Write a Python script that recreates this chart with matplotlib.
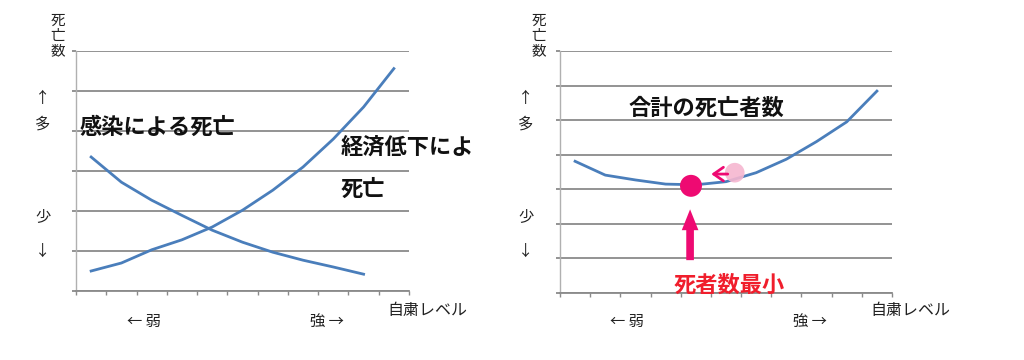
import matplotlib
matplotlib.use("Agg")
import matplotlib.pyplot as plt
from matplotlib.patches import Rectangle

plt.rcParams['font.family'] = ['Noto Sans CJK JP', 'DejaVu Sans']

# ---- data ----
levels = list(range(1, 12))  # 自粛レベル categories
infection_deaths = [3.35, 2.72, 2.27, 1.89, 1.52, 1.22, 0.97, 0.77, 0.60, 0.42]
economic_deaths = [0.50, 0.70, 1.03, 1.28, 1.60, 2.02, 2.52, 3.10, 3.80, 4.60, 5.56]
total_deaths = [3.81, 3.41, 3.27, 3.15, 3.13, 3.22, 3.48, 3.87, 4.38, 4.95, 5.84]
optimum_level, optimum_deaths = 4.84, 3.10
current_level, current_deaths = 6.29, 3.48

LINE = '#4a7ebb'
GRID = '#8a8a8a'
PINK = '#ee0a72'
W, H = 1024, 360

fig = plt.figure(figsize=(W / 100, H / 100), dpi=100)
fig.patch.set_facecolor('white')


def fx(px):
    return px / W


def fy(py):
    return 1 - py / H


def setup(ax, ymax):
    ax.set_xlim(0.5, 11.5)
    ax.set_ylim(0, ymax)
    ax.set_yticks(range(0, ymax + 1))
    ax.set_yticklabels([])
    ax.set_xticks([i + 0.5 for i in range(0, 12)])
    ax.set_xticklabels([])
    ax.grid(axis='y', color=GRID, lw=1.3)
    ax.set_axisbelow(True)
    for s in ['top', 'right']:
        ax.spines[s].set_visible(False)
    ax.spines['left'].set_color('#b0b0b0')
    ax.spines['left'].set_linewidth(1.0)
    ax.spines['bottom'].set_color(GRID)
    ax.spines['bottom'].set_linewidth(1.3)
    ax.tick_params(axis='x', length=3, color=GRID, width=1)
    ax.tick_params(axis='y', length=3, color=GRID, width=1.3)


# ---- left chart ----
ax1 = fig.add_axes([fx(76), fy(291), fx(409 - 76), (291 - 51) / H])
setup(ax1, 6)
ax1.plot(levels[:len(infection_deaths)], infection_deaths, color=LINE, lw=2)
ax1.plot(levels, economic_deaths, color=LINE, lw=2)

# ---- right chart ----
ax2 = fig.add_axes([fx(560), fy(293), fx(892 - 560), (293 - 51) / H])
setup(ax2, 7)
ax2.plot(levels, total_deaths, color=LINE, lw=2, zorder=3)
ax2.scatter([current_level], [current_deaths], s=200, color='#f5b6d0',
            alpha=0.9, zorder=4, edgecolors='none')
ax2.scatter([optimum_level], [optimum_deaths], s=250, color=PINK,
            zorder=5, edgecolors='none')
ax2.annotate('', xy=(5.42, 3.44), xytext=(6.15, 3.44),
             arrowprops=dict(arrowstyle='->,head_length=0.5,head_width=0.35',
                             color=PINK, lw=2, mutation_scale=14), zorder=6)
ax2.annotate('', xy=(optimum_level - 0.03, 2.50), xytext=(optimum_level - 0.03, 0.87),
             arrowprops=dict(arrowstyle='simple,head_length=1.5,head_width=1.2,tail_width=0.55',
                             color=PINK, lw=0, mutation_scale=10), zorder=6)

# ---- texts ----
bold = dict(fontsize=16, fontweight='bold', color='#111111')
fig.text(fx(80), fy(127), '感染による死亡', ha='left', va='center', **bold)
t = fig.text(fx(341), fy(147), '経済低下による', ha='left', va='center', **bold)
t.set_clip_on(True)
t.set_clip_path(Rectangle((0, 0), fx(474), 1, transform=fig.transFigure))
fig.text(fx(341), fy(189), '死亡', ha='left', va='center', **bold)
fig.text(fx(629), fy(108), '合計の死亡者数', ha='left', va='center', **bold)
fig.text(fx(674), fy(285), '死者数最小', ha='left', va='center',
         fontsize=16, fontweight='bold', color='#f01e2c')

small = dict(fontsize=11, color='#222222', ha='center', va='center')
for x0 in (58, 539):
    for i, ch in enumerate('死亡数'):
        fig.text(fx(x0), fy(21 + i * 15), ch, fontsize=10.5, color='#222222',
                 ha='center', va='center')
for x0 in (43, 526):
    fig.text(fx(x0), fy(98), '↑', **small)
    fig.text(fx(x0), fy(124), '多', **small)
    fig.text(fx(x0), fy(218), '少', **small)
    fig.text(fx(x0), fy(251), '↓', **small)

for x0, xw, xs in ((387, 144, 327), (870, 627, 810)):
    fig.text(fx(x0), fy(310), '自粛レベル', fontsize=11.5, color='#222222',
             ha='left', va='center')
    fig.text(fx(xw), fy(321), '← 弱', **small)
    fig.text(fx(xs), fy(321), '強 →', **small)

fig.savefig('out.png', dpi=100, facecolor='white')
